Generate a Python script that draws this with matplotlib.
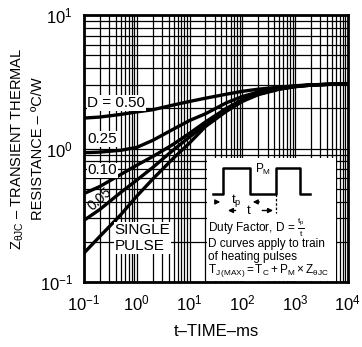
import matplotlib
matplotlib.use("Agg")
import matplotlib.pyplot as plt
from matplotlib.patches import Rectangle

plt.rcParams['font.family'] = ['Liberation Sans', 'DejaVu Sans']
plt.rcParams['mathtext.fontset'] = 'custom'
plt.rcParams['mathtext.rm'] = 'Liberation Sans'
plt.rcParams['mathtext.it'] = 'Liberation Sans'
plt.rcParams['mathtext.bf'] = 'Liberation Sans:bold'

# time in ms
t_ms = [0.1, 0.2, 0.5, 1, 2, 5, 10, 20, 50, 100, 200, 500, 1000, 2000, 5000, 10000]

z_d50 = [1.69, 1.72, 1.80, 1.88, 1.95, 2.12, 2.25, 2.38, 2.55, 2.68, 2.78, 2.88, 2.95, 3.00, 3.03, 3.05]
z_d25 = [0.93, 0.94, 0.97, 1.02, 1.15, 1.40, 1.62, 1.82, 2.20, 2.45, 2.65, 2.83, 2.93, 2.99, 3.03, 3.05]
z_d10 = [0.46, 0.52, 0.64, 0.75, 0.87, 1.08, 1.30, 1.58, 2.00, 2.32, 2.58, 2.80, 2.92, 2.99, 3.03, 3.05]
z_d05 = [0.29, 0.35, 0.47, 0.58, 0.72, 0.98, 1.22, 1.50, 1.95, 2.28, 2.55, 2.79, 2.91, 2.98, 3.03, 3.05]
z_single = [0.165, 0.22, 0.32, 0.44, 0.59, 0.85, 1.10, 1.46, 1.90, 2.25, 2.53, 2.78, 2.90, 2.98, 3.03, 3.05]

curves = [z_d50, z_d25, z_d10, z_d05, z_single]

fig = plt.figure(figsize=(3.62, 3.47), dpi=100)
ax = fig.add_axes([0.232, 0.187, 0.729, 0.770])

ax.set_xscale('log')
ax.set_yscale('log')
ax.set_xlim(0.1, 10000)
ax.set_ylim(0.1, 10)

ax.grid(True, which='both', color='black', linewidth=0.9)
ax.set_axisbelow(True)
for s in ax.spines.values():
    s.set_linewidth(2)
ax.tick_params(which='both', length=0, labelsize=12, pad=8)

for z in curves:
    ax.plot(t_ms, z, color='black', linewidth=2.4, zorder=4)

lbl = dict(fontsize=11, color='black', zorder=5,
           bbox=dict(facecolor='white', edgecolor='none', pad=0.5))
ax.text(0.013, 0.67, 'D = 0.50', transform=ax.transAxes, va='center', **lbl)
ax.text(0.013, 0.536, '0.25', transform=ax.transAxes, va='center', **lbl)
ax.text(0.013, 0.418, '0.10', transform=ax.transAxes, va='center', **lbl)
ax.text(0.062, 0.312, '0.05', transform=ax.transAxes, va='center', ha='center',
        rotation=42, fontsize=10, zorder=5)
ax.text(0.115, 0.165, 'SINGLE\nPULSE', transform=ax.transAxes, va='center',
        linespacing=1.15, **lbl)

# inset box with pulse train sketch
ax.add_patch(Rectangle((0.465, 0.004), 0.49, 0.46, transform=ax.transAxes,
                       facecolor='white', edgecolor='none', zorder=3))
px = [0.49, 0.527, 0.527, 0.629, 0.629, 0.727, 0.727, 0.818, 0.818, 0.856]
py = [0.33, 0.33, 0.427, 0.427, 0.33, 0.33, 0.427, 0.427, 0.33, 0.33]
ax.plot(px, py, color='black', linewidth=1.8, transform=ax.transAxes, zorder=5)
ax.text(0.678, 0.42, '$\\mathrm{P_M}$', transform=ax.transAxes, ha='center',
        va='center', fontsize=8.5, zorder=5)
ar = dict(arrowstyle='-|>', color='black', lw=1, mutation_scale=7)
ax.annotate('', xy=(0.527, 0.3), xytext=(0.49, 0.3), xycoords='axes fraction',
            arrowprops=ar, zorder=5)
ax.annotate('', xy=(0.629, 0.3), xytext=(0.675, 0.3), xycoords='axes fraction',
            arrowprops=ar, zorder=5)
ax.text(0.578, 0.304, '$\\mathrm{t_p}$', transform=ax.transAxes, ha='center',
        va='center', fontsize=9.5, zorder=5)
ax.annotate('', xy=(0.535, 0.268), xytext=(0.585, 0.268), xycoords='axes fraction',
            arrowprops=ar, zorder=5)
ax.annotate('', xy=(0.727, 0.268), xytext=(0.665, 0.268), xycoords='axes fraction',
            arrowprops=ar, zorder=5)
ax.text(0.625, 0.268, 't', transform=ax.transAxes, ha='center', va='center',
        fontsize=9.5, zorder=5)
ax.plot([0.727, 0.727], [0.33, 0.257], color='black', lw=0.9, ls=(0, (2, 1.5)),
        transform=ax.transAxes, zorder=5)

inset = dict(transform=ax.transAxes, fontsize=8.5, va='center', ha='left', zorder=5)
ax.text(0.47, 0.206, 'Duty Factor, D = $\\mathrm{\\frac{t_p}{t}}$', **inset)
ax.text(0.47, 0.141, 'D curves apply to train', **inset)
ax.text(0.47, 0.094, 'of heating pulses', **inset)
ax.text(0.47, 0.044, '$\\mathrm{T_{J\\,(MAX)} = T_C + P_M \\times Z_{\\theta JC}}$', **inset)

ax.set_xlabel('t–TIME–ms', fontsize=12, labelpad=8)
ax.set_ylabel('$\\mathrm{Z_{\\theta JC}}$ – TRANSIENT THERMAL\nRESISTANCE – ºC/W',
              fontsize=10.5, linespacing=1.45)
ax.yaxis.set_label_coords(-0.148, 0.5)

fig.savefig('out.png', dpi=100)
